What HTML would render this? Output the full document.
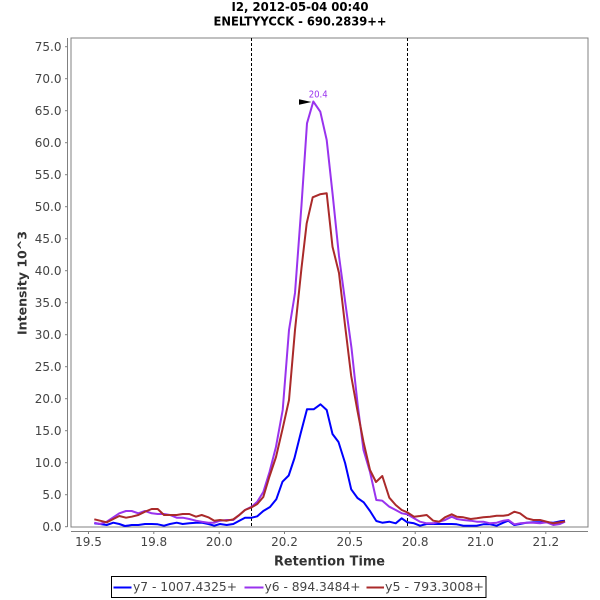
<!DOCTYPE html>
<html>
<head>
<meta charset="utf-8">
<style>
  html, body { margin: 0; padding: 0; background: #ffffff; }
  svg { display: block; }
  text { font-family: "DejaVu Sans", "Liberation Sans", sans-serif; }
</style>
</head>
<body>
<svg width="600" height="600" viewBox="0 0 600 600" xmlns="http://www.w3.org/2000/svg">
  <rect x="0" y="0" width="600" height="600" fill="#ffffff"/>

  <!-- Title -->
  <text x="300" y="11" text-anchor="middle" font-size="12" font-weight="bold" fill="#000" textLength="137" lengthAdjust="spacingAndGlyphs">I2, 2012-05-04 00:40</text>
  <text x="300" y="25.7" text-anchor="middle" font-size="12" font-weight="bold" fill="#000" textLength="173" lengthAdjust="spacingAndGlyphs">ENELTYYCCK - 690.2839++</text>

  <!-- Plot outline -->
  <rect x="71" y="38" width="517" height="489" fill="#ffffff" stroke="#808080" stroke-width="1"/>

  <!-- Axes lines -->
  <line x1="67.5" y1="38" x2="67.5" y2="527" stroke="#808080" stroke-width="1"/>
  <line x1="71" y1="531.5" x2="588" y2="531.5" stroke="#808080" stroke-width="1"/>

  <!-- Y ticks and labels -->
  <g stroke="#808080" stroke-width="1">
    <line x1="65" y1="526.7" x2="67.5" y2="526.7"/>
    <line x1="65" y1="494.7" x2="67.5" y2="494.7"/>
    <line x1="65" y1="462.7" x2="67.5" y2="462.7"/>
    <line x1="65" y1="430.7" x2="67.5" y2="430.7"/>
    <line x1="65" y1="398.7" x2="67.5" y2="398.7"/>
    <line x1="65" y1="366.7" x2="67.5" y2="366.7"/>
    <line x1="65" y1="334.7" x2="67.5" y2="334.7"/>
    <line x1="65" y1="302.7" x2="67.5" y2="302.7"/>
    <line x1="65" y1="270.7" x2="67.5" y2="270.7"/>
    <line x1="65" y1="238.7" x2="67.5" y2="238.7"/>
    <line x1="65" y1="206.7" x2="67.5" y2="206.7"/>
    <line x1="65" y1="174.7" x2="67.5" y2="174.7"/>
    <line x1="65" y1="142.7" x2="67.5" y2="142.7"/>
    <line x1="65" y1="110.7" x2="67.5" y2="110.7"/>
    <line x1="65" y1="78.7" x2="67.5" y2="78.7"/>
    <line x1="65" y1="46.7" x2="67.5" y2="46.7"/>
  </g>
  <g font-size="12" fill="#444444" text-anchor="end">
    <text x="61.5" y="531">0.0</text>
    <text x="61.5" y="499">5.0</text>
    <text x="61.5" y="467">10.0</text>
    <text x="61.5" y="435">15.0</text>
    <text x="61.5" y="403">20.0</text>
    <text x="61.5" y="371">25.0</text>
    <text x="61.5" y="339">30.0</text>
    <text x="61.5" y="307">35.0</text>
    <text x="61.5" y="275">40.0</text>
    <text x="61.5" y="243">45.0</text>
    <text x="61.5" y="211">50.0</text>
    <text x="61.5" y="179">55.0</text>
    <text x="61.5" y="147">60.0</text>
    <text x="61.5" y="115">65.0</text>
    <text x="61.5" y="83">70.0</text>
    <text x="61.5" y="51">75.0</text>
  </g>

  <!-- X ticks and labels -->
  <g stroke="#808080" stroke-width="1">
    <line x1="88.5" y1="531.5" x2="88.5" y2="534"/>
    <line x1="153.8" y1="531.5" x2="153.8" y2="534"/>
    <line x1="219.2" y1="531.5" x2="219.2" y2="534"/>
    <line x1="284.5" y1="531.5" x2="284.5" y2="534"/>
    <line x1="349.8" y1="531.5" x2="349.8" y2="534"/>
    <line x1="415.2" y1="531.5" x2="415.2" y2="534"/>
    <line x1="480.5" y1="531.5" x2="480.5" y2="534"/>
    <line x1="545.8" y1="531.5" x2="545.8" y2="534"/>
  </g>
  <g font-size="12" fill="#444444" text-anchor="middle">
    <text x="88.5" y="546">19.5</text>
    <text x="153.8" y="546">19.8</text>
    <text x="219.2" y="546">20.0</text>
    <text x="284.5" y="546">20.2</text>
    <text x="349.8" y="546">20.5</text>
    <text x="415.2" y="546">20.8</text>
    <text x="480.5" y="546">21.0</text>
    <text x="545.8" y="546">21.2</text>
  </g>

  <!-- Axis labels -->
  <text x="329.5" y="565.5" text-anchor="middle" font-size="13" font-weight="bold" fill="#333333" textLength="111" lengthAdjust="spacingAndGlyphs">Retention Time</text>
  <text transform="translate(26.5,283) rotate(-90)" x="0" y="0" text-anchor="middle" font-size="12.5" font-weight="bold" fill="#333333" textLength="104" lengthAdjust="spacingAndGlyphs">Intensity 10^3</text>

  <!-- Dashed markers -->
  <line x1="251.5" y1="38" x2="251.5" y2="527" stroke="#000" stroke-width="1" stroke-dasharray="3,2"/>
  <line x1="407.5" y1="38" x2="407.5" y2="527" stroke="#000" stroke-width="1" stroke-dasharray="3,2"/>

  <!-- Series: y7 blue -->
  <polyline fill="none" stroke="#0000ff" stroke-width="2" stroke-linejoin="round"
    points="94.3,523.3 100,524 106.7,525 113.3,522.7 119.3,524 125,526 131.7,525 138.3,525 145,524 151.7,524 157.7,524.3 164,525.7 170,524 176.7,522.7 182.7,524 189.3,523.3 196,522.7 201.7,522.7 208.3,524 214.3,525.7 220,524 226.7,525 233.3,524 239.3,520.7 245,517.7 251.7,517.7 257.3,516.3 263.3,511 270,507 276.3,499.3 282.5,481.7 288.7,475.5 294.5,458 300.5,434 307,409.3 313.7,409.3 320.5,404.3 326.7,410 332.5,434 338.5,442 345.1,463 351.2,489.3 357.5,498 363.7,502.3 370,511 376.3,521 382.3,522.7 389.3,521.7 395.7,523.3 401.7,518.3 407.3,522.3 414,523.3 420,525.7 426.7,524 433.3,524 439.3,524 445,524 451.7,524 456.7,524.3 463.3,525.7 470.7,525.7 476.7,525.7 483.3,524.3 490,524.3 496.7,525.7 503.3,522.7 508.3,520.7 514.3,525 520,524 526.7,522.7 533.3,522.3 540,522.3 546.7,522.3 553.3,522.7 560,521.3 565,520.7"/>

  <!-- Series: y6 purple -->
  <polyline fill="none" stroke="#9933ee" stroke-width="2" stroke-linejoin="round"
    points="94.3,522.7 100,524 106.7,521.7 113.3,517.3 119.3,513.3 126,511 131.7,511 138.3,513.3 145,511 151.7,513.3 157.7,514 164,514 170,515 176.7,517.7 182.7,517.7 189.3,519 196,520.7 201.7,521.7 208.3,522.7 214.3,522.7 220,520.7 226.7,520 233.3,520 239.3,515 245,510 251.7,506.7 257.3,501.7 263.3,492 269.5,472 276,446.7 282.7,410 289,330 295,293 301.5,205 307,123.3 313.3,101.5 320.3,111.7 326.7,140 332.7,195 339,256 345.2,302 351.5,348 357.7,405 363.5,450 370,472 376.3,500 382.3,500.7 389.3,506.7 395.7,510 401.7,513.3 407.3,514.3 414,518.3 420,521.7 426.7,523.3 433.3,523.3 439.3,521.7 445,520 451.7,516.7 456.7,519 463.3,520 470.7,520.7 476.7,521.7 483.3,521.7 490,523.3 496.7,522.7 503.3,520.7 508.3,520 514.3,524.3 520,523.3 526.7,522.7 533.3,522.7 540,523.3 546.7,522.3 553.3,525 560,524 565,521.7"/>

  <!-- Series: y5 red -->
  <polyline fill="none" stroke="#aa2a2a" stroke-width="2" stroke-linejoin="round"
    points="94.3,519.3 100,520.7 106.7,522.3 113.3,519 119.3,516 126,517.7 131.7,516.7 138.3,515 145,511.7 151.7,509 157.7,509 164,515 170,515 176.7,515 182.7,514 189.3,514 196,516.7 201.7,515 208.3,517.3 214.3,520.7 220,520 226.7,520.7 233.3,519.3 239.3,515 245,510 251.7,507.3 257.3,504 263.3,497 269.3,477 276,457 282.7,428.3 289,400 295,330 301.5,268 306.7,223.3 312.7,197.3 320,194.3 326.7,193.3 332.5,246.7 339,273 345,325 351.2,376 357.3,410 363.5,442 370,470 376,482 382.3,476 389.3,497.7 395.7,505 401.7,510 407.3,512.3 414,516.7 420,516 426.7,515 433.3,520.7 439.3,521.7 445,517.3 451.7,514.3 456.7,516.7 463.3,517.3 470.7,519 476.7,518.3 483.3,517.3 490,516.7 496.7,515.7 503.3,515.7 508.3,515 514.3,511.7 520,513.3 526.7,518.3 533.3,520 540,520 546.7,521.7 553.3,523.3 560,522.3 565,521.3"/>

  <!-- Peak annotation -->
  <polygon points="299,99.3 299,104.7 311.5,102" fill="#000000"/>
  <text x="318.2" y="97.5" text-anchor="middle" font-size="9.5" fill="#9933ee" textLength="19" lengthAdjust="spacingAndGlyphs">20.4</text>

  <!-- Legend -->
  <rect x="111.5" y="576.5" width="374.5" height="21" fill="#ffffff" stroke="#000000" stroke-width="1"/>
  <line x1="113.5" y1="587.5" x2="131.5" y2="587.5" stroke="#0000ff" stroke-width="2"/>
  <text x="133" y="591" font-size="12" fill="#444444" textLength="104" lengthAdjust="spacingAndGlyphs">y7 - 1007.4325+</text>
  <line x1="244.5" y1="587.5" x2="263.5" y2="587.5" stroke="#9933ee" stroke-width="2"/>
  <text x="264.5" y="591" font-size="12" fill="#444444" textLength="96" lengthAdjust="spacingAndGlyphs">y6 - 894.3484+</text>
  <line x1="366.5" y1="587.5" x2="384" y2="587.5" stroke="#aa2a2a" stroke-width="2"/>
  <text x="385" y="591" font-size="12" fill="#444444" textLength="99" lengthAdjust="spacingAndGlyphs">y5 - 793.3008+</text>
</svg>
</body>
</html>
